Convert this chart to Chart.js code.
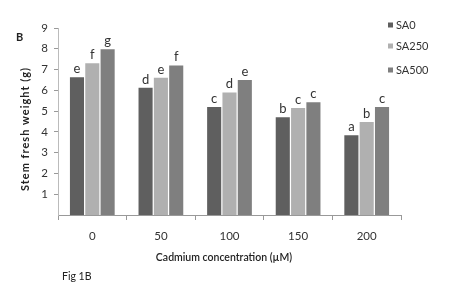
<!DOCTYPE html>
<html><head><meta charset="utf-8">
<script src="https://cdn.jsdelivr.net/npm/chart.js@4/dist/chart.umd.min.js"></script>
<style>html,body{margin:0;padding:0;background:#fff}#w{width:456px;height:289px}</style>
</head><body><div id="w"><canvas id="c"></canvas></div>
<script>
const categories = ['0', '50', '100', '150', '200'];
const seriesNames = ['SA0', 'SA250', 'SA500'];
const sa0 = [6.63, 6.12, 5.2, 4.7, 3.84];
const sa250 = [7.3, 6.6, 5.9, 5.15, 4.47];
const sa500 = [7.98, 7.2, 6.5, 5.43, 5.2];
const letters0 = ['e', 'd', 'c', 'b', 'a'];
const letters250 = ['f', 'e', 'd', 'c', 'b'];
const letters500 = ['g', 'f', 'e', 'c', 'c'];
const yTicks = [1, 2, 3, 4, 5, 6, 7, 8, 9];
const yTitle = 'Stem fresh weight (g)';
const xTitle = 'Cadmium concentration (µM)';
const panelLabel = 'B';
const figLabel = 'Fig 1B';

const colors = ['#5f5f5f', '#b0b0b0', '#7f7f7f'];
const letterSets = [letters0, letters250, letters500];
const FONT = 'Lato, "Open Sans", sans-serif';

const deco = {
  id: 'deco',
  afterDatasetsDraw(chart) {
    const ctx = chart.ctx;
    ctx.save();
    ctx.fillStyle = '#333';
    ctx.font = '13px ' + FONT;
    ctx.textAlign = 'center';
    ctx.textBaseline = 'bottom';
    chart.data.datasets.forEach((ds, i) => {
      const meta = chart.getDatasetMeta(i);
      meta.data.forEach((bar, j) => {
        ctx.fillText(letterSets[i][j], bar.x, bar.y - 2);
      });
    });
    // panel label
    ctx.font = 'bold 11px ' + FONT;
    ctx.textAlign = 'left';
    ctx.textBaseline = 'middle';
    ctx.fillStyle = '#222';
    ctx.fillText(panelLabel, 16, 37);
    // y title
    ctx.save();
    ctx.translate(25, 129);
    ctx.rotate(-Math.PI / 2);
    ctx.textAlign = 'center';
    ctx.font = 'bold 11px ' + FONT;
    ctx.letterSpacing = '1px';
    ctx.fillText(yTitle, 0, 0);
    ctx.restore();
    // x title
    ctx.textAlign = 'center';
    ctx.font = '600 10.5px ' + FONT;
    ctx.fillStyle = '#222';
    ctx.fillText(xTitle, 224, 258);
    // fig label
    ctx.textAlign = 'left';
    ctx.font = '10.5px ' + FONT;
    ctx.fillText(figLabel, 62, 277);
    // legend
    ctx.font = '11px ' + FONT;
    ctx.fillStyle = '#333';
    const ly = [25, 46, 70];
    seriesNames.forEach((n, i) => {
      ctx.fillStyle = colors[i];
      ctx.fillRect(388, ly[i] - 2.5, 5, 5);
      ctx.fillStyle = '#333';
      ctx.fillText(n, 396, ly[i]);
    });
    ctx.restore();
  }
};

new Chart(document.getElementById('c'), {
  type: 'bar',
  data: {
    labels: categories,
    datasets: [
      { label: seriesNames[0], data: sa0, backgroundColor: colors[0] },
      { label: seriesNames[1], data: sa250, backgroundColor: colors[1] },
      { label: seriesNames[2], data: sa500, backgroundColor: colors[2] }
    ]
  },
  options: {
    responsive: true,
    maintainAspectRatio: false,
    animation: false,
    events: [],
    datasets: { bar: { categoryPercentage: 0.67, barPercentage: 0.92 } },
    layout: { padding: { left: 0, right: 55, top: 28, bottom: 44 } },
    plugins: { legend: { display: false }, tooltip: { enabled: false } },
    scales: {
      x: {
        afterFit(s) { s.height = 30; },
        grid: { display: true, offset: true, drawOnChartArea: false, tickLength: 5, color: '#999' },
        border: { color: '#999' },
        ticks: { color: '#333', font: { family: FONT, size: 11.5 }, padding: 9 }
      },
      y: {
        min: 0, max: 9,
        afterFit(s) { s.width = 58; },
        afterBuildTicks(s) { s.ticks = yTicks.map(v => ({ value: v })); },
        grid: { display: true, drawOnChartArea: false, tickLength: 4, color: '#999' },
        border: { color: '#bbb' },
        ticks: { color: '#333', font: { family: FONT, size: 11.5 }, padding: 6 }
      }
    }
  },
  plugins: [deco]
});
</script>
</body></html>
